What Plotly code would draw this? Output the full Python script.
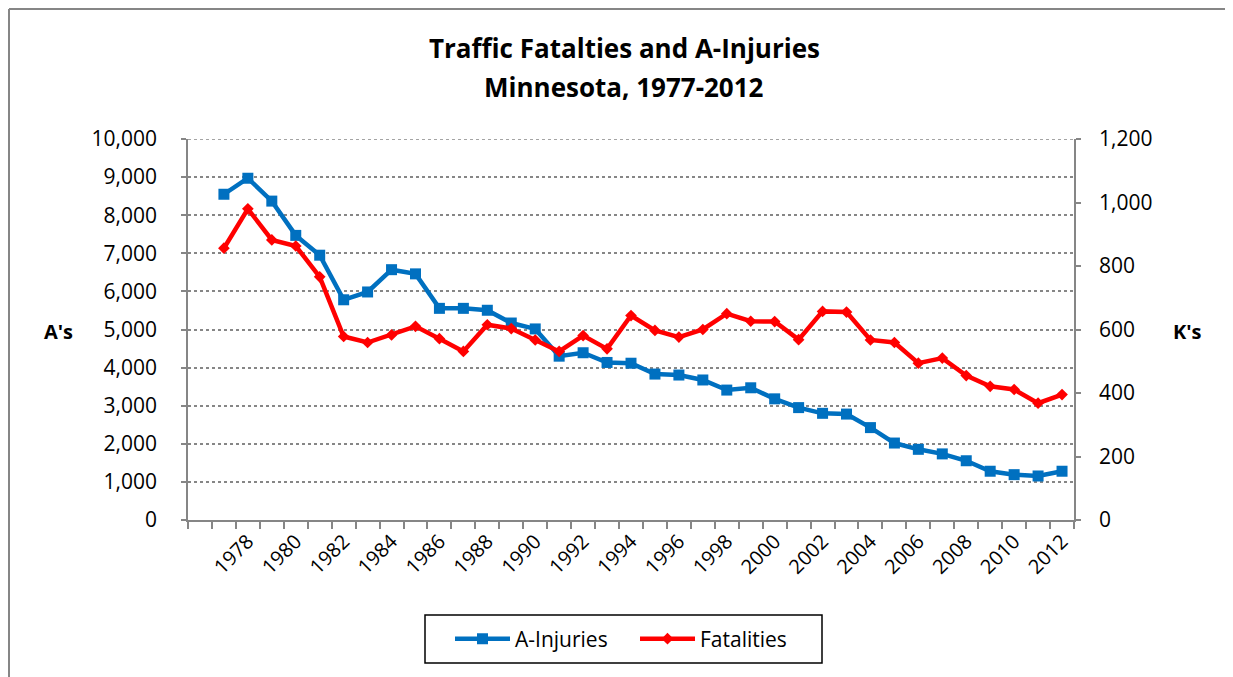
import plotly.graph_objects as go

years = list(range(1977, 2013))
a_injuries = [8550, 8970, 8370, 7470, 6950, 5780, 5985, 6570, 6460, 5555,
              5555, 5505, 5170, 5015, 4300, 4390, 4135, 4115, 3830, 3805,
              3675, 3410, 3470, 3180, 2950, 2800, 2780, 2425, 2020, 1855,
              1735, 1555, 1280, 1190, 1155, 1280]
fatalities = [856, 980, 882, 863, 766, 578, 559, 583, 610, 571,
              531, 615, 603, 567, 531, 581, 539, 644, 597, 576,
              600, 650, 626, 625, 568, 657, 655, 567, 559, 494,
              510, 455, 421, 411, 368, 395]
label_years = list(range(1978, 2013, 2))

FONT = "Open Sans"
GRAY = "#868686"
OFF = 8  # page body margin

fig = go.Figure()
fig.add_trace(go.Scatter(
    x=years, y=a_injuries, name="A-Injuries", mode="lines+markers",
    line=dict(color="#0070C0", width=4.5),
    marker=dict(symbol="square", size=11, color="#0070C0"),
))
fig.add_trace(go.Scatter(
    x=years, y=fatalities, name="Fatalities", mode="lines+markers", yaxis="y2",
    line=dict(color="#FF0000", width=4.5),
    marker=dict(symbol="diamond", size=9, color="#FF0000"),
))

W, H = 1233 - OFF, 677 - OFF
L = 188 - OFF
T = 139 - OFF
R = W - (1074 - OFF)
B = H - (520 - OFF)
pw, ph = W - L - R, H - T - B


def px_x(sx):
    return (sx - OFF - L) / pw


def px_y(sy):
    return (H - B - (sy - OFF)) / ph


fig.update_layout(
    width=W, height=H,
    margin=dict(l=L, r=R, t=T, b=B, autoexpand=False),
    paper_bgcolor="white", plot_bgcolor="white",
    font=dict(family=FONT, size=21, color="black"),
    showlegend=True,
    legend=dict(
        orientation="h", x=px_x(450), xanchor="left",
        y=px_y(639), yanchor="middle",
        borderwidth=0, bgcolor="rgba(0,0,0,0)",
        font=dict(family=FONT, size=21),
        entrywidth=115, entrywidthmode="pixels", itemwidth=55,
    ),
    xaxis=dict(
        range=[1975.5, 2012.5], tickmode="array", tickvals=label_years,
        ticktext=[str(y) for y in label_years], tickangle=-45,
        ticks="", showgrid=False, zeroline=False,
        showline=True, linecolor=GRAY, linewidth=1.5,
        tickfont=dict(family=FONT, size=20),
        minor=dict(tick0=1975.5, dtick=1, ticks="outside", ticklen=7,
                   tickcolor=GRAY, tickwidth=1.5, showgrid=False),
    ),
    yaxis=dict(
        range=[0, 10000], dtick=1000, tickformat=",",
        showgrid=True, gridcolor=GRAY, griddash="dot", gridwidth=1.5,
        zeroline=False, showline=True, linecolor=GRAY, linewidth=1.5,
        ticks="outside", ticklen=5, tickcolor=GRAY, tickwidth=1.5,
        ticklabelstandoff=20, tickfont=dict(family=FONT, size=21),
    ),
    yaxis2=dict(
        range=[0, 1200], dtick=200, tickformat=",", overlaying="y", side="right",
        showgrid=False, zeroline=False, showline=True, linecolor=GRAY, linewidth=1.5,
        ticks="outside", ticklen=5, tickcolor=GRAY, tickwidth=1.5,
        ticklabelstandoff=14, tickfont=dict(family=FONT, size=21),
    ),
)

fig.add_annotation(text="<b>Traffic Fatalties and A-Injuries</b>", x=px_x(624), y=px_y(48),
                   xref="paper", yref="paper", showarrow=False,
                   font=dict(family=FONT, size=26), xanchor="center", yanchor="middle")
fig.add_annotation(text="<b>Minnesota, 1977-2012</b>", x=px_x(624), y=px_y(87),
                   xref="paper", yref="paper", showarrow=False,
                   font=dict(family=FONT, size=26), xanchor="center", yanchor="middle")
fig.add_annotation(text="<b>A's</b>", x=px_x(58), y=px_y(331), xref="paper", yref="paper",
                   showarrow=False, font=dict(family=FONT, size=20),
                   xanchor="center", yanchor="middle")
fig.add_annotation(text="<b>K's</b>", x=px_x(1187), y=px_y(331), xref="paper", yref="paper",
                   showarrow=False, font=dict(family=FONT, size=20),
                   xanchor="center", yanchor="middle")

# top dotted gridline (plotly clips gridlines at the range end)
fig.add_shape(type="line", xref="paper", yref="y", x0=0, x1=1, y0=10000, y1=10000,
              line=dict(color=GRAY, width=1.5, dash="dot"), layer="below")
# outer chart border: top and left edges only
fig.add_shape(type="line", xref="paper", yref="paper",
              x0=px_x(9), x1=px_x(1233), y0=px_y(9), y1=px_y(9),
              line=dict(color=GRAY, width=2), layer="below")
fig.add_shape(type="line", xref="paper", yref="paper",
              x0=px_x(9), x1=px_x(9), y0=px_y(9), y1=px_y(700),
              line=dict(color=GRAY, width=2), layer="below")
# legend box
fig.add_shape(type="rect", xref="paper", yref="paper",
              x0=px_x(425), x1=px_x(822), y0=px_y(663), y1=px_y(615),
              line=dict(color="black", width=1.5), fillcolor="white", layer="below")

fig.write_html("out.html")
